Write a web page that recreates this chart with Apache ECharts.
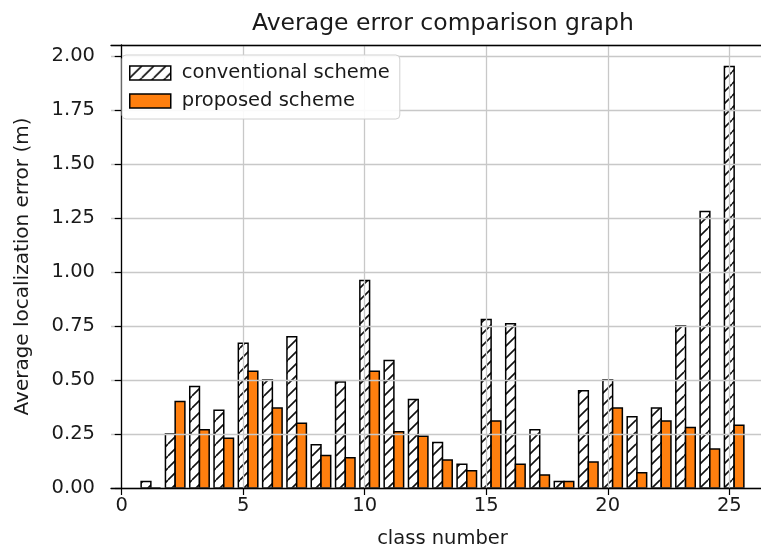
<!DOCTYPE html>
<html>
<head>
<meta charset="utf-8">
<script src="https://cdn.jsdelivr.net/npm/echarts@6/dist/echarts.min.js"></script>
<style>
  html, body { margin: 0; padding: 0; background: #fff; }
  #main { width: 761px; height: 549px; }
</style>
</head>
<body>
<div id="main"></div>
<script>
// class numbers on x
const classes = [1, 2, 3, 4, 5, 6, 7, 8, 9, 10, 11, 12, 13, 14, 15, 16, 17, 18, 19, 20, 21, 22, 23, 24, 25];
// average localization error (m)
const conventional = [0.03, 0.25, 0.47, 0.36, 0.67, 0.50, 0.70, 0.20, 0.49, 0.96, 0.59, 0.41, 0.21, 0.11, 0.78, 0.76, 0.27, 0.03, 0.45, 0.50, 0.33, 0.37, 0.75, 1.28, 1.95];
const proposed = [0, 0.40, 0.27, 0.23, 0.54, 0.37, 0.30, 0.15, 0.14, 0.54, 0.26, 0.24, 0.13, 0.08, 0.31, 0.11, 0.06, 0.03, 0.12, 0.37, 0.07, 0.31, 0.28, 0.18, 0.29];
const xTicks = [0, 5, 10, 15, 20, 25];

const BAR_W = 0.4;
const FONT = 'DejaVu Sans';

// '//' hatch as a repeating canvas
function makeHatch() {
  const s = 12;
  const c = document.createElement('canvas');
  c.width = s; c.height = s;
  const ctx = c.getContext('2d');
  ctx.fillStyle = '#fff';
  ctx.fillRect(0, 0, s, s);
  ctx.strokeStyle = '#111';
  ctx.lineWidth = 1.6;
  ctx.beginPath();
  for (const k of [-s, 0, s]) {
    ctx.moveTo(k, s);
    ctx.lineTo(k + s, 0);
  }
  ctx.stroke();
  return { image: c, repeat: 'repeat' };
}
const hatch = makeHatch();
const orange = '#ff7f0e';

function barRenderer(offset, fill) {
  return function (params, api) {
    const x = api.value(0), y = api.value(1);
    const p0 = api.coord([x + offset - BAR_W / 2, 0]);
    const p1 = api.coord([x + offset + BAR_W / 2, y]);
    return {
      type: 'rect',
      shape: { x: p0[0], y: p1[1], width: p1[0] - p0[0], height: p0[1] - p1[1] },
      style: { fill: fill, stroke: '#000', lineWidth: 1.5 }
    };
  };
}

let myChart = echarts.init(document.getElementById('main'));
myChart.setOption({
  animation: false,
  backgroundColor: '#fff',
  title: {
    text: 'Average error comparison graph',
    left: 247,
    top: 7,
    textStyle: { fontFamily: FONT, fontSize: 23.5, fontWeight: 'normal', color: '#1a1a1a' }
  },
  legend: {
    orient: 'vertical',
    left: 122,
    top: 55,
    z: 10,
    padding: [8, 10, 8, 7],
    itemWidth: 41,
    itemHeight: 14,
    itemGap: 8,
    backgroundColor: 'rgba(255,255,255,0.9)',
    borderColor: '#d0d0d0',
    borderWidth: 1,
    borderRadius: 4,
    textStyle: { fontFamily: FONT, fontSize: 19.5, color: '#1a1a1a', padding: [0, 0, 0, 6] },
    data: [
      { name: 'conventional scheme', icon: 'rect', itemStyle: { color: hatch, borderColor: '#000', borderWidth: 1.5 } },
      { name: 'proposed scheme', icon: 'rect', itemStyle: { color: orange, borderColor: '#000', borderWidth: 1.5 } }
    ]
  },
  grid: { left: 111, top: 45, width: 663, height: 443, outerBoundsMode: 'none' },
  xAxis: [{
    type: 'value',
    min: -0.44,
    max: 26.84,
    position: 'bottom',
    z: 5,
    name: 'class number',
    nameLocation: 'middle',
    nameGap: 41,
    nameTextStyle: { fontFamily: FONT, fontSize: 19.5, color: '#1a1a1a' },
    axisLine: { lineStyle: { color: '#000', width: 1.3 } },
    axisTick: { length: 7, customValues: xTicks, lineStyle: { color: '#000', width: 1.2 } },
    axisLabel: { customValues: xTicks, fontFamily: FONT, fontSize: 19.5, color: '#1a1a1a', margin: 8 },
    splitLine: { show: true, lineStyle: { color: '#c8c8c8', width: 1.3 } }
  }, {
    type: 'value',
    min: -0.44,
    max: 26.84,
    position: 'top',
    z: 5,
    axisLine: { show: true, lineStyle: { color: '#000', width: 1.3 } },
    axisTick: { show: false },
    axisLabel: { show: false },
    splitLine: { show: false }
  }],
  yAxis: {
    type: 'value',
    min: 0,
    max: 2.05,
    interval: 0.25,
    z: 5,
    name: 'Average localization error (m)',
    nameLocation: 'middle',
    nameGap: 78,
    nameTextStyle: { fontFamily: FONT, fontSize: 20, color: '#1a1a1a' },
    axisLine: { show: true, lineStyle: { color: '#000', width: 1.3 } },
    axisTick: { show: true, length: 7, lineStyle: { color: '#000', width: 1.2 } },
    axisLabel: {
      fontFamily: FONT, fontSize: 19.5, color: '#1a1a1a', margin: 16, showMaxLabel: false,
      formatter: function (v) { return v.toFixed(2); }
    },
    splitLine: { show: true, lineStyle: { color: '#c8c8c8', width: 1.3 } }
  },
  series: [{
    name: 'conventional scheme',
    type: 'custom',
    xAxisIndex: 0,
    itemStyle: { color: hatch, borderColor: '#000', borderWidth: 1.5 },
    encode: { x: 0, y: 1 },
    renderItem: barRenderer(0, hatch),
    data: classes.map((c, i) => [c, conventional[i]])
  }, {
    name: 'proposed scheme',
    type: 'custom',
    xAxisIndex: 0,
    itemStyle: { color: orange, borderColor: '#000', borderWidth: 1.5 },
    encode: { x: 0, y: 1 },
    renderItem: barRenderer(BAR_W, orange),
    data: classes.map((c, i) => [c, proposed[i]])
  }]
});
</script>
</body>
</html>
